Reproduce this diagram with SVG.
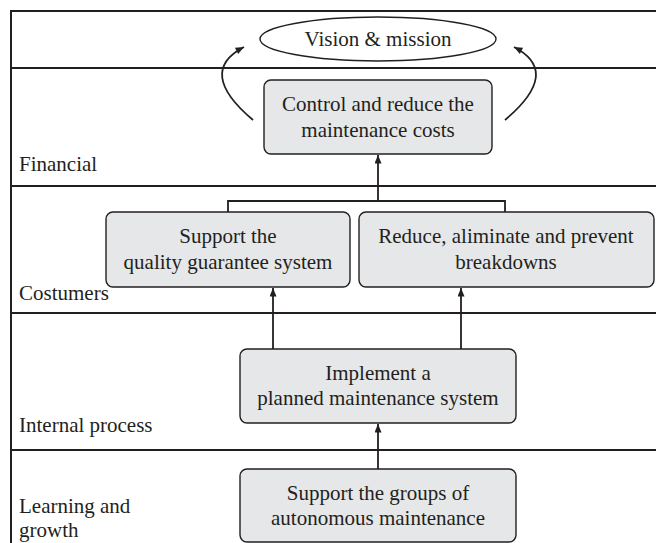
<svg xmlns="http://www.w3.org/2000/svg" width="656" height="543" viewBox="0 0 656 543">
<style>
text{font-family:"Liberation Serif","Times New Roman",serif;font-size:21px;fill:#231f20}
.c{text-anchor:middle}
.band{stroke:#231f20;stroke-width:2;fill:none}
.box{fill:#e6e7e8;stroke:#231f20;stroke-width:1.4}
.ln{stroke:#231f20;stroke-width:1.8;fill:none}
</style>
<defs>
<marker id="ah2" viewBox="0 0 12 10" refX="12" refY="5" markerWidth="13" markerHeight="7" orient="auto" markerUnits="userSpaceOnUse">
<path d="M0,0 L12,5 L0,10 Z" fill="#231f20"/>
</marker>
</defs>
<g id="frame">
<path class="band" d="M11,543 V11 H656"/>
<path class="band" d="M11,68 H656 M11,186 H656 M11,313 H656 M11,450 H656"/>
<text x="19" y="171">Financial</text>
<text x="19" y="300">Costumers</text>
<text x="19" y="432">Internal process</text>
<text x="19" y="513">Learning and</text>
<text x="19" y="537">growth</text>
</g>
<g id="connectors">
<path class="ln" d="M253,120 Q196,72 244,47" marker-end="url(#ah2)"/>
<path class="ln" d="M505,120 Q562,72 514,47" marker-end="url(#ah2)"/>
<path class="ln" d="M378,201 V155" marker-end="url(#ah2)"/>
<path class="ln" d="M228,212 V201 H505 V212"/>
<path class="ln" d="M273,349 V288" marker-end="url(#ah2)"/>
<path class="ln" d="M461,349 V288" marker-end="url(#ah2)"/>
<path class="ln" d="M378,469 V424" marker-end="url(#ah2)"/>
</g>
<g id="vision">
<ellipse cx="378" cy="39" rx="118" ry="22" fill="#fff" stroke="#231f20" stroke-width="1.4"/>
<text class="c" x="378" y="46">Vision &amp; mission</text>
</g>
<g id="financial-node">
<rect class="box" x="264" y="80" width="228" height="74" rx="7"/>
<text class="c" x="378" y="111">Control and reduce the</text>
<text class="c" x="378" y="137">maintenance costs</text>
</g>
<g id="quality-node">
<rect class="box" x="106" y="212" width="244" height="75" rx="7"/>
<text class="c" x="228" y="243">Support the</text>
<text class="c" x="228" y="269">quality guarantee system</text>
</g>
<g id="breakdowns-node">
<rect class="box" x="359" y="212" width="295" height="75" rx="7"/>
<text class="c" x="506" y="243">Reduce, aliminate and prevent</text>
<text class="c" x="506" y="269">breakdowns</text>
</g>
<g id="implement-node">
<rect class="box" x="240" y="349" width="276" height="74" rx="7"/>
<text class="c" x="378" y="380">Implement a</text>
<text class="c" x="378" y="405">planned maintenance system</text>
</g>
<g id="learning-node">
<rect class="box" x="240" y="469" width="276" height="73" rx="7"/>
<text class="c" x="378" y="500">Support the groups of</text>
<text class="c" x="378" y="525">autonomous maintenance</text>
</g>
</svg>
